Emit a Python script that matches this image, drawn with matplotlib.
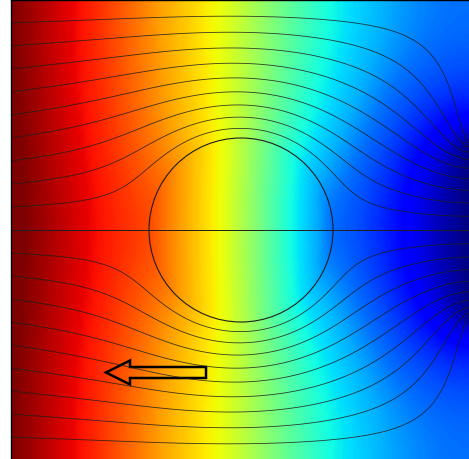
import numpy as np
import matplotlib
matplotlib.use("Agg")
import matplotlib.pyplot as plt
from matplotlib.colors import ListedColormap
from matplotlib.patches import Circle, FancyArrow

# geometry (pixel units, y grows downward)
domain_x = [11, 471]          # left wall .. right wall (right wall is cropped)
domain_y = [1, 461]           # top wall .. bottom wall
circle_center = [241, 231]
circle_radius = 92
inlet_halfwidth = 88          # opening in the right wall
perm_outside = 1.0
perm_inside_flow = 0.01       # streamlines go round the circle
perm_inside_color = 0.3       # coloured field is only a little steeper inside it
n_tubes = 20                  # streamlines split the flow in 20 equal tubes

# jet level seen along the top wall at these x positions
top_row_x = [11, 90, 160, 225, 330, 385, 469]
top_row_level = [1.0, 0.875, 0.74, 0.625, 0.375, 0.30, 0.235]
# and along the middle line, close to the opening
mid_row_x = [400, 440]
mid_row_level = [0.13, 0.05]

# arrow (outline only)
arrow_tail = [206, 373.5]
arrow_tip_x = 106

grid_step = 2.0
fig_w, fig_h = 469, 460

x0, x1 = domain_x
y0, y1 = domain_y
cx, cy = circle_center
nx = int(round((x1 - x0) / grid_step))
ny = int(round((y1 - y0) / grid_step))
xc = x0 + (np.arange(nx) + 0.5) * grid_step
yc = y0 + (np.arange(ny) + 0.5) * grid_step
X, Y = np.meshgrid(xc, yc)
in_circle = (X - cx) ** 2 + (Y - cy) ** 2 < circle_radius ** 2
opening = np.abs(yc - cy) < inlet_halfwidth
q_left = 1.0 / ny


def hmean(a, b):
    return 2 * a * b / (a + b)


def solve(K, n_iter):
    """Darcy flow, red-black SOR: uniform outflow at the left wall,
    zero pressure in the right opening, closed top and bottom."""
    Tx = hmean(K[:, :-1], K[:, 1:])
    Ty = hmean(K[:-1, :], K[1:, :])
    Tw = np.zeros_like(K); Tw[:, 1:] = Tx
    Te = np.zeros_like(K); Te[:, :-1] = Tx
    Tn = np.zeros_like(K); Tn[1:, :] = Ty
    Ts = np.zeros_like(K); Ts[:-1, :] = Ty
    Be = np.zeros_like(K); Be[opening, -1] = 2 * K[opening, -1]
    diag = Tw + Te + Tn + Ts + Be
    src = np.zeros_like(K); src[:, 0] = q_left
    p = np.interp(X, [x0, x1], [0.9, 0.0])
    red = ((np.arange(ny)[:, None] + np.arange(nx)[None, :]) % 2 == 0).astype(float)
    pp = np.zeros((ny + 2, nx + 2))
    for _ in range(n_iter):
        for m in (red, 1.0 - red):
            pp[1:-1, 1:-1] = p
            gs = (Tw * pp[1:-1, :-2] + Te * pp[1:-1, 2:] + Tn * pp[:-2, 1:-1]
                  + Ts * pp[2:, 1:-1] + src) / diag
            p += 1.965 * (gs - p) * m
    return p, Tx, Be


# flow around the (almost closed) circle -> streamlines
p_flow, Tx, Be = solve(np.where(in_circle, perm_inside_flow, perm_outside), 3000)
qx = np.zeros((ny, nx + 1))
qx[:, 0] = q_left
qx[:, 1:-1] = Tx * (p_flow[:, :-1] - p_flow[:, 1:])
qx[:, -1] = Be[:, -1] * p_flow[:, -1]
psi = np.vstack([np.zeros((1, nx + 1)), np.cumsum(qx, axis=0)])
psi = psi / psi[-1:, :].clip(1e-12)
psi_x = x0 + np.arange(nx + 1) * grid_step
psi_y = y0 + np.arange(ny + 1) * grid_step
levels = [k / n_tubes for k in range(1, n_tubes) if k != n_tubes // 2]

# coloured field, scaled to the left wall
p_col, _, _ = solve(np.where(in_circle, perm_inside_color, perm_outside), 2500)
field = p_col / p_col[:, 0].mean()

# colour scale calibrated on the picture: field value -> jet level
mid_row = field[ny // 2 - 1:ny // 2 + 1].mean(axis=0)
cal = sorted(zip(np.interp(top_row_x, xc, field[0]), top_row_level))
cal += list(zip(np.interp(mid_row_x, xc, mid_row), mid_row_level))
cal = sorted(cal)
cal_v = np.array([0.0] + [v for v, _ in cal] + [field.max() + 1e-6])
cal_c = np.array([0.0] + [c for _, c in cal] + [1.0])
cal_c = np.maximum.accumulate(cal_c)
v_grid = np.linspace(0, cal_v[-1], 512)
cmap = ListedColormap(plt.get_cmap("jet")(np.interp(v_grid, cal_v, cal_c)))

# --- figure ---
fig = plt.figure(figsize=(fig_w / 100, fig_h / 100), dpi=100)
ax = fig.add_axes([x0 / fig_w, (fig_h - y1) / fig_h,
                   (x1 - x0) / fig_w, (y1 - y0) / fig_h])
ax.imshow(field, extent=(x0, x1, y1, y0), origin="upper", cmap=cmap,
          vmin=0.0, vmax=cal_v[-1], interpolation="bilinear", aspect="auto")
ax.contour(psi_x, psi_y, psi, levels=levels, colors="#1e1e1e",
           linewidths=0.6, alpha=0.85)
ax.plot([x0, x1], [cy, cy], color="#1e1e1e", lw=0.7)
ax.add_patch(Circle((cx, cy), circle_radius, fill=False, ec="#1e1e1e", lw=0.8))
ax.add_patch(FancyArrow(arrow_tail[0], arrow_tail[1], arrow_tip_x - arrow_tail[0], 0,
                        width=11, head_width=24, head_length=24,
                        length_includes_head=True, fc="none", ec="black", lw=1.8))
ax.set_xlim(x0, x1)
ax.set_ylim(y1, y0)
ax.set_xticks([])
ax.set_yticks([])
for side, s in ax.spines.items():
    s.set_linewidth(1.0)
    s.set_color("black")
    s.set_visible(side in ("left", "top"))

fig.savefig("out.png", dpi=100)
